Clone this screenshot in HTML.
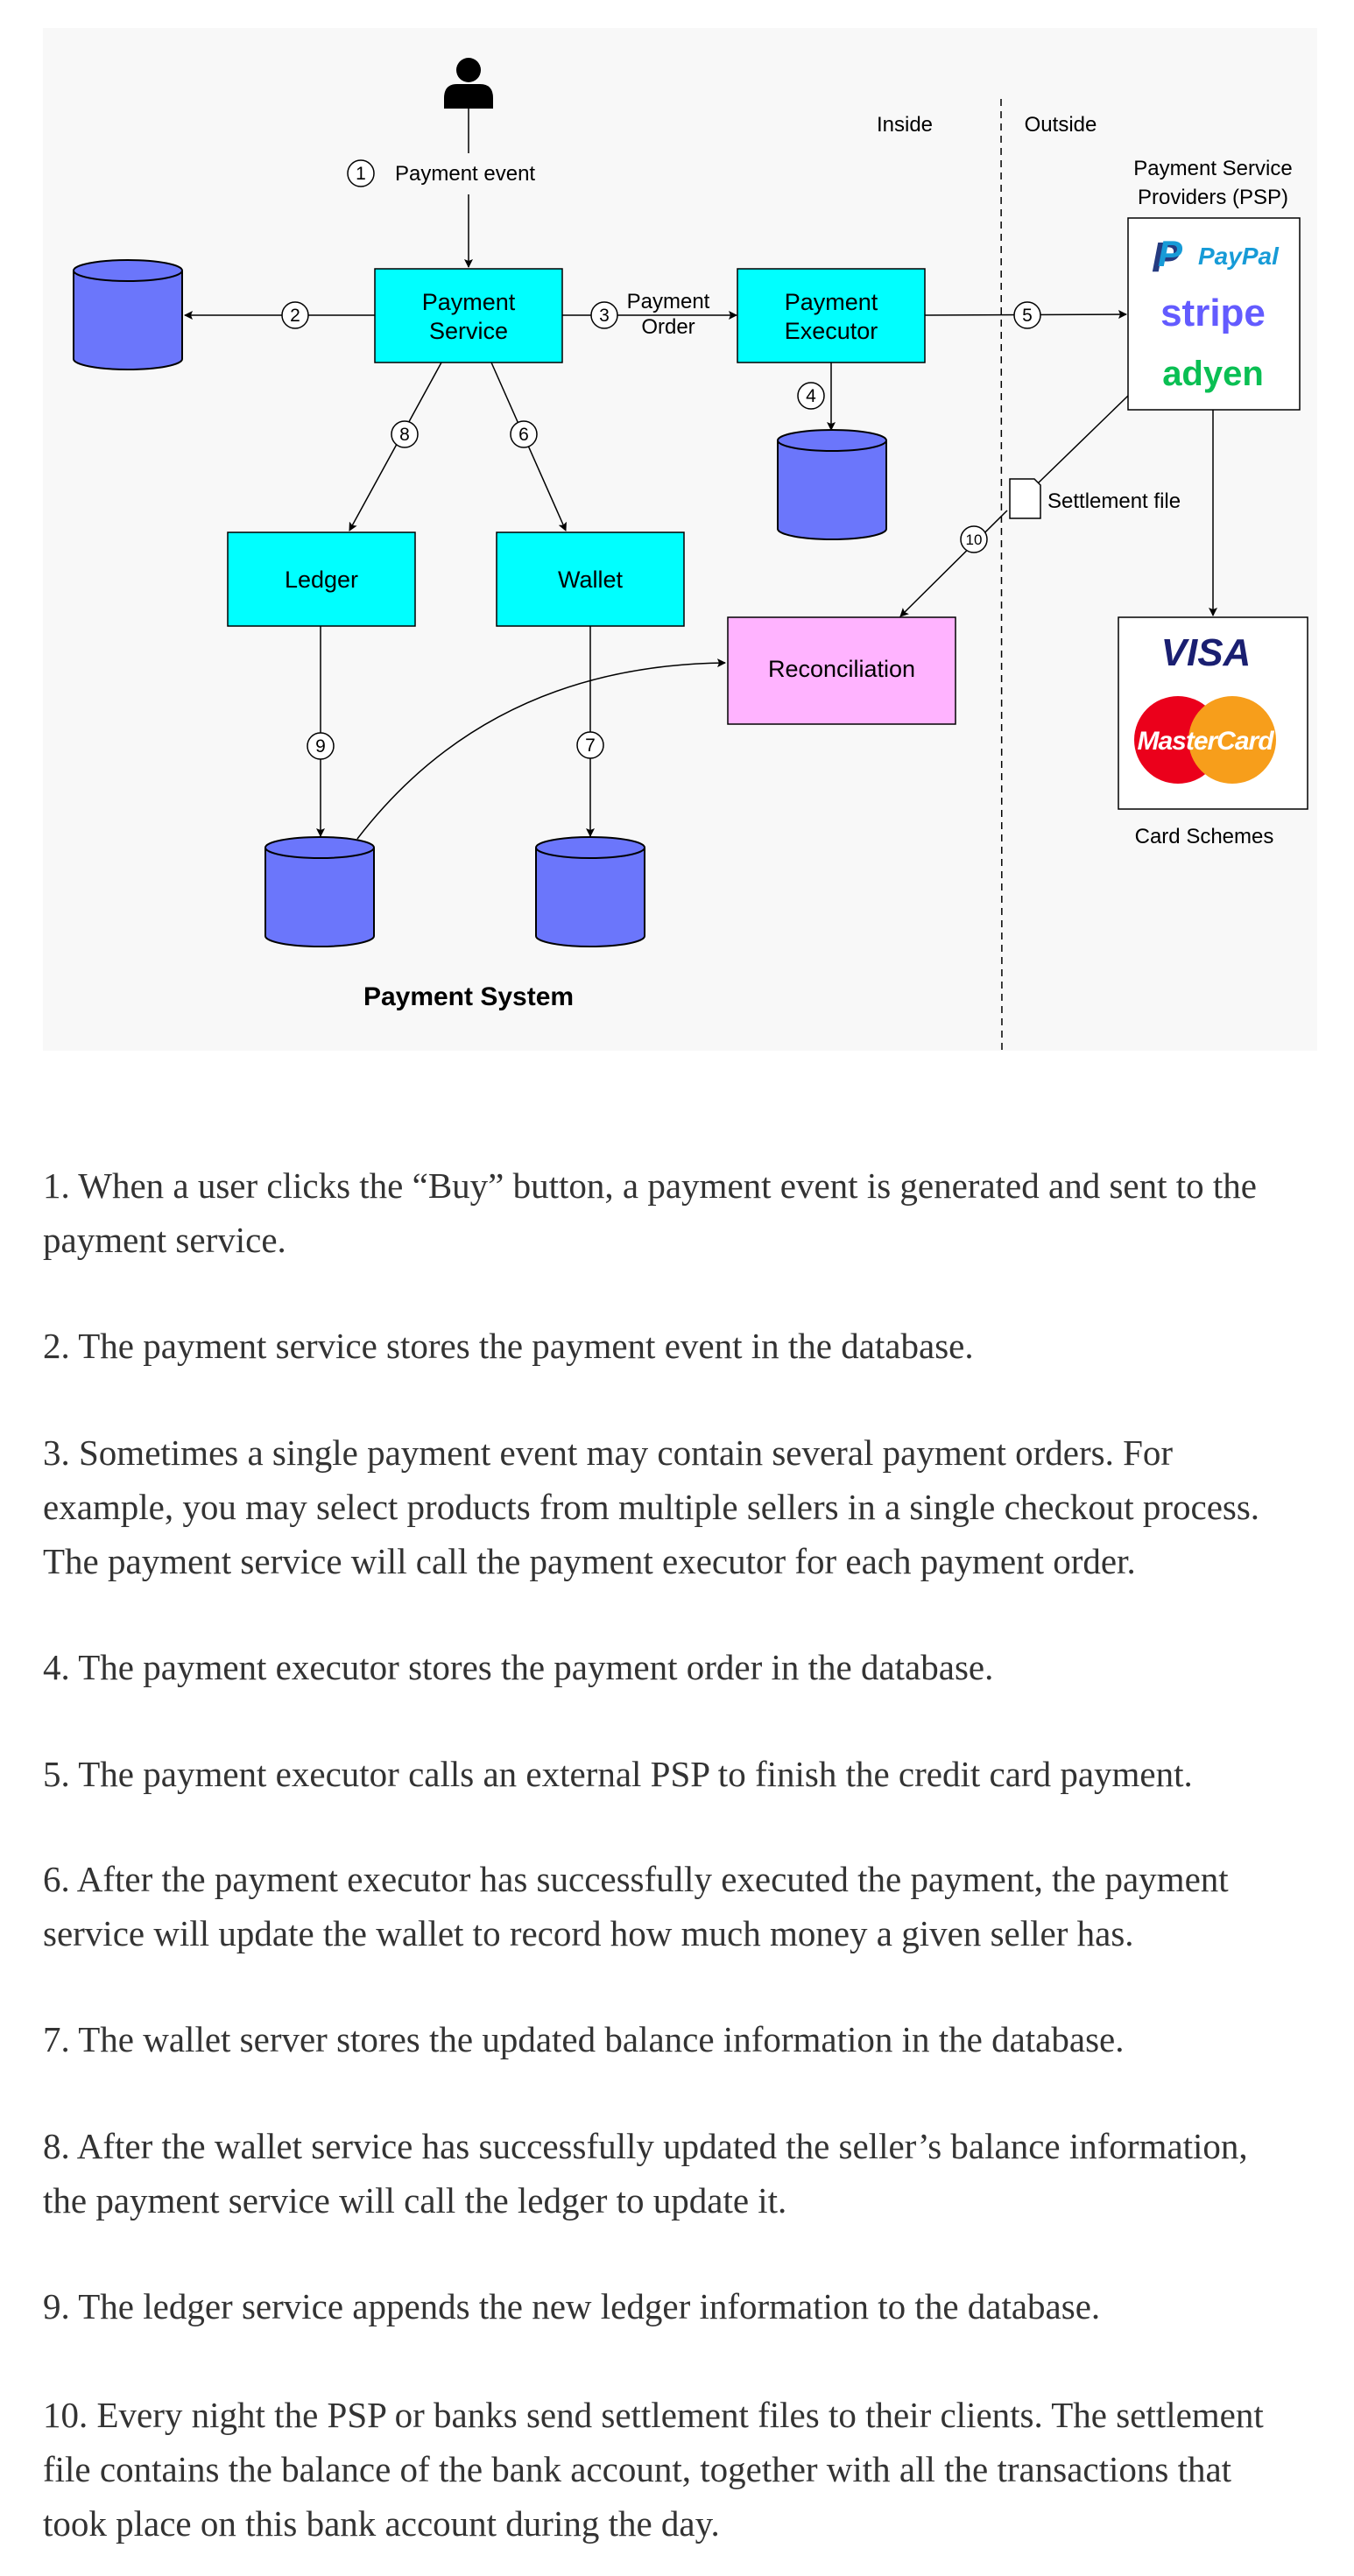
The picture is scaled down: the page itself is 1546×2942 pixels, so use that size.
<!DOCTYPE html>
<html><head><meta charset="utf-8"><style>
body{margin:0;background:#fff;width:1546px;height:2942px;position:relative;overflow:hidden}
svg{position:absolute;left:0;top:0}
.t{position:absolute;left:49px;font-family:"Liberation Serif",serif;font-size:41px;line-height:62px;color:#333;white-space:nowrap}
</style></head><body>
<svg width="1546" height="1220" viewBox="0 0 1546 1220" font-family="Liberation Sans, sans-serif">
<defs>
<marker id="a" markerWidth="10" markerHeight="10" refX="9" refY="5" orient="auto" markerUnits="userSpaceOnUse"><path d="M0,0 L10,5 L0,10 L2,5 z" fill="#000"/></marker>
<g id="db"><path d="M0,12 L0,113 A62,12 0 0 0 124,113 L124,12" fill="#6b76fb" stroke="#000" stroke-width="2"/><ellipse cx="62" cy="12" rx="62" ry="12" fill="#6b76fb" stroke="#000" stroke-width="2"/></g>
</defs>
<rect x="49" y="32" width="1455" height="1168" fill="#f8f8f8"/>
<line x1="1143" y1="113" x2="1144" y2="1202" stroke="#000" stroke-width="1.5" stroke-dasharray="8,6"/>
<circle cx="535" cy="80" r="14" fill="#000"/>
<path d="M507,124 L507,112 Q507,96 522,96 L548,96 Q563,96 563,112 L563,124 z" fill="#000"/>
<g stroke="#000" stroke-width="1.5" fill="none">
<line x1="535" y1="124" x2="535" y2="175"/>
<line x1="535" y1="222" x2="535" y2="305" marker-end="url(#a)"/>
<line x1="428" y1="360" x2="211" y2="360" marker-end="url(#a)"/>
<line x1="642" y1="360" x2="841" y2="360" marker-end="url(#a)"/>
<line x1="1056" y1="360" x2="1286" y2="359" marker-end="url(#a)"/>
<line x1="949" y1="414" x2="949" y2="491" marker-end="url(#a)"/>
<line x1="504" y1="414" x2="399" y2="606" marker-end="url(#a)"/>
<line x1="561" y1="414" x2="646" y2="606" marker-end="url(#a)"/>
<line x1="366" y1="715" x2="366" y2="955" marker-end="url(#a)"/>
<line x1="674" y1="715" x2="674" y2="955" marker-end="url(#a)"/>
<line x1="1288" y1="452" x2="1185" y2="552"/>
<line x1="1150" y1="583" x2="1028" y2="704" marker-end="url(#a)"/>
<line x1="1385" y1="468" x2="1385" y2="703" marker-end="url(#a)"/>
<path d="M408,958 Q560,760 828,757" marker-end="url(#a)"/>
</g>
<use href="#db" x="84" y="297"/>
<use href="#db" x="888" y="491"/>
<use href="#db" x="303" y="956"/>
<use href="#db" x="612" y="956"/>
<g stroke="#000" stroke-width="1.5">
<rect x="428" y="307" width="214" height="107" fill="#00ffff"/>
<rect x="842" y="307" width="214" height="107" fill="#00ffff"/>
<rect x="260" y="608" width="214" height="107" fill="#00ffff"/>
<rect x="567" y="608" width="214" height="107" fill="#00ffff"/>
<rect x="831" y="705" width="260" height="122" fill="#ffb3ff"/>
<rect x="1288" y="249" width="196" height="219" fill="#fff"/>
<rect x="1277" y="705" width="216" height="219" fill="#fff"/>
<path d="M1153,547 L1181,547 L1188,554 L1188,592 L1153,592 z" fill="#fff"/>
</g>
<g stroke="#000" stroke-width="1.5" fill="#fff">
<circle cx="412" cy="198" r="15"/><circle cx="337" cy="360" r="15"/><circle cx="690" cy="360" r="15"/>
<circle cx="1173" cy="360" r="15"/><circle cx="926" cy="452" r="15"/><circle cx="462" cy="496" r="15"/>
<circle cx="598" cy="496" r="15"/><circle cx="1112" cy="616" r="15"/><circle cx="366" cy="852" r="15"/><circle cx="674" cy="851" r="15"/>
</g>
<g font-size="21" text-anchor="middle" fill="#000">
<text x="412" y="205">1</text><text x="337" y="367">2</text><text x="690" y="367">3</text><text x="1173" y="367">5</text>
<text x="926" y="459">4</text><text x="462" y="503">8</text><text x="598" y="503">6</text><text x="1112" y="622" font-size="17">10</text>
<text x="366" y="859">9</text><text x="674" y="858">7</text>
</g>
<g font-size="24" fill="#000">
<text x="451" y="206">Payment event</text>
<text x="763" y="352" text-anchor="middle">Payment</text><text x="763" y="381" text-anchor="middle">Order</text>
<text x="1033" y="150" text-anchor="middle">Inside</text><text x="1211" y="150" text-anchor="middle">Outside</text>
<text x="1385" y="200" text-anchor="middle">Payment Service</text><text x="1385" y="233" text-anchor="middle">Providers (PSP)</text>
<text x="1196" y="580">Settlement file</text>
<text x="1375" y="963" text-anchor="middle">Card Schemes</text>
</g>
<g font-size="27" fill="#000" text-anchor="middle">
<text x="535" y="354">Payment</text><text x="535" y="387">Service</text>
<text x="949" y="354">Payment</text><text x="949" y="387">Executor</text>
<text x="367" y="671">Ledger</text><text x="674" y="671">Wallet</text>
<text x="961" y="773">Reconciliation</text>
</g>
<text x="535" y="1148" font-size="30" font-weight="bold" text-anchor="middle">Payment System</text>
<text x="1315" y="310" font-size="48" font-weight="bold" font-style="italic" fill="#253b80">P</text>
<text x="1322" y="304" font-size="42" font-weight="bold" font-style="italic" fill="#179bd7">P</text>
<text x="1368" y="302" font-size="28" font-weight="bold" font-style="italic" fill="#179bd7">PayPal</text>
<text x="1385" y="372" font-size="44" font-weight="bold" text-anchor="middle" fill="#635bff">stripe</text>
<text x="1385" y="440" font-size="40" font-weight="bold" text-anchor="middle" fill="#0abf53">adyen</text>
<text x="1377" y="760" font-size="44" font-weight="bold" font-style="italic" text-anchor="middle" fill="#1a1f71">VISA</text>
<circle cx="1345" cy="845" r="50" fill="#eb001b"/>
<circle cx="1407" cy="845" r="50" fill="#f79e1b"/>
<text x="1376" y="856" font-size="30" font-weight="bold" font-style="italic" text-anchor="middle" fill="#fff" letter-spacing="-1">MasterCard</text>
</svg>
<div class="t" style="top:1323px">1. When a user clicks the “Buy” button, a payment event is generated and sent to the<br>payment service.</div>
<div class="t" style="top:1506px">2. The payment service stores the payment event in the database.</div>
<div class="t" style="top:1628px">3. Sometimes a single payment event may contain several payment orders. For<br>example, you may select products from multiple sellers in a single checkout process.<br>The payment service will call the payment executor for each payment order.</div>
<div class="t" style="top:1873px">4. The payment executor stores the payment order in the database.</div>
<div class="t" style="top:1995px">5. The payment executor calls an external PSP to finish the credit card payment.</div>
<div class="t" style="top:2115px">6. After the payment executor has successfully executed the payment, the payment<br>service will update the wallet to record how much money a given seller has.</div>
<div class="t" style="top:2298px">7. The wallet server stores the updated balance information in the database.</div>
<div class="t" style="top:2420px">8. After the wallet service has successfully updated the seller’s balance information,<br>the payment service will call the ledger to update it.</div>
<div class="t" style="top:2603px">9. The ledger service appends the new ledger information to the database.</div>
<div class="t" style="top:2727px">10. Every night the PSP or banks send settlement files to their clients. The settlement<br>file contains the balance of the bank account, together with all the transactions that<br>took place on this bank account during the day.</div>
</body></html>
